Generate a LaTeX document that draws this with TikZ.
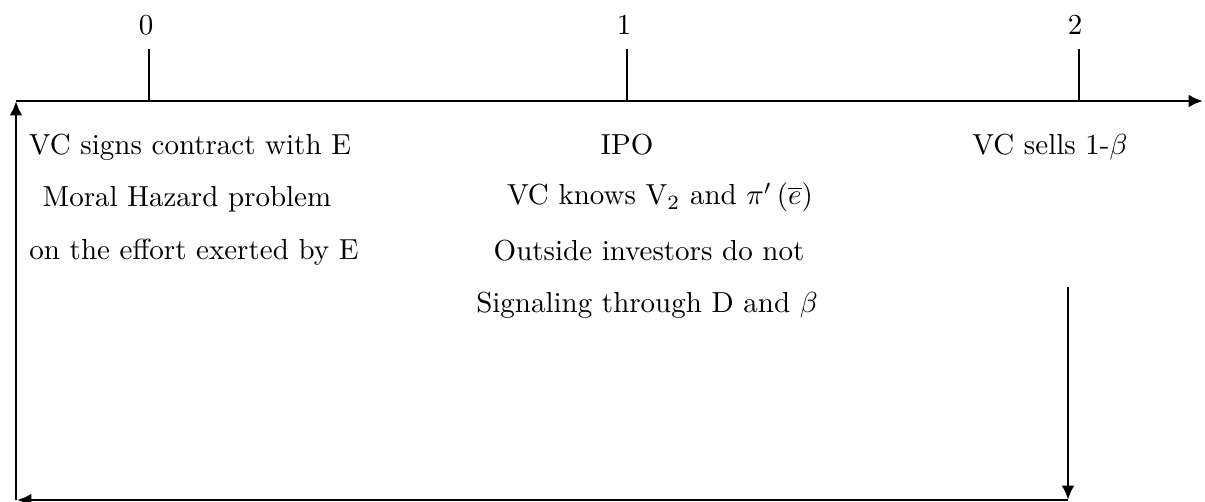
\documentclass[tikz,border=0pt]{standalone}
\usetikzlibrary{arrows.meta}
\begin{document}
\begin{tikzpicture}[x=0.345pt,y=-0.345pt,
  ln/.style={line width=1pt},
  arr/.style={ln,-{Latex[length=5pt,width=4.5pt]}},
  lbl/.style={anchor=base,inner sep=0pt}]
\useasboundingbox (0,0) rectangle (1205,502);
% coordinates
\coordinate (axL) at (16,101);
\coordinate (axR) at (1203,101);
\coordinate (t0b) at (149,101);
\coordinate (t0t) at (149,49);
\coordinate (t1b) at (627,101);
\coordinate (t1t) at (627,49);
\coordinate (t2b) at (1079,101);
\coordinate (t2t) at (1079,49);
\coordinate (bl) at (16,500);
\coordinate (rt) at (1068,287);
\coordinate (br) at (1068,500);
\coordinate (blt) at (17,500);
% axis and ticks
\draw[arr] (axL) -- (axR);
\draw[ln] (t0b) -- (t0t);
\draw[ln] (t1b) -- (t1t);
\draw[ln] (t2b) -- (t2t);
% loop
\draw[arr] (bl) -- (axL);
\draw[arr] (rt) -- (br);
\draw[arr] (br) -- (blt);
% labels
\node[lbl] (n0) at (146,35) {0};
\node[lbl] (n1) at (624,35) {1};
\node[lbl] (n2) at (1075,35) {2};
\node[lbl] (a1) at (190,155) {VC signs contract with E};
\node[lbl] (a2) at (187,207) {Moral Hazard problem};
\node[lbl] (a3) at (194,260) {on the effort exerted by E};
\node[lbl] (b1) at (627,155) {IPO};
\node[lbl] (b2) at (660,205) {VC knows V$_2$ and $\pi^{\prime}\left(\overline{e}\right)$};
\node[lbl] (b3) at (649,261) {Outside investors do not};
\node[lbl] (b4) at (647,313) {Signaling through D and $\beta$};
\node[lbl] (c1) at (1050,155) {VC sells 1-$\beta$};
\end{tikzpicture}
\end{document}
